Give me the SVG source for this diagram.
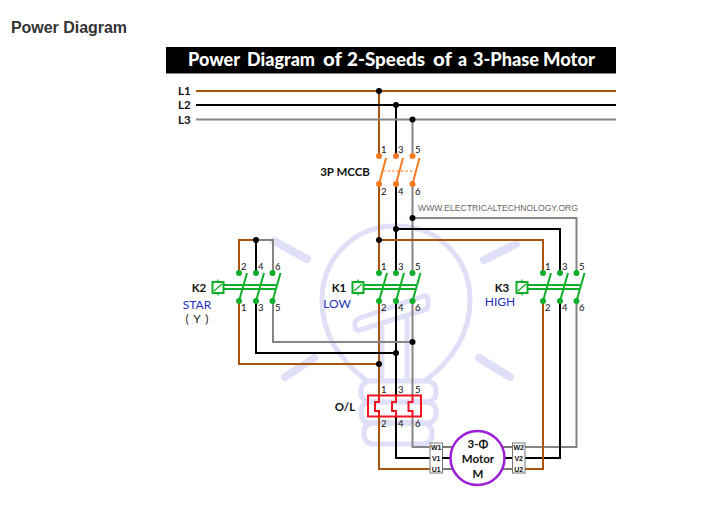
<svg xmlns="http://www.w3.org/2000/svg" width="718" height="515" viewBox="0 0 718 515">
<style>
text{font-family:"Lato","Liberation Sans",sans-serif;font-weight:700;fill:#111}
.n{font-size:9.500px;font-weight:400;fill:#111}
.lb{font-size:11.500px;text-anchor:middle}
.bl{font-size:12px;text-anchor:middle;fill:#2432c0;font-weight:400}
.w{fill:none;stroke-width:2}
.br{stroke:#a8540f}.bk{stroke:#000}.gy{stroke:#858585}
.wm{fill:none;stroke:#dfdff8;stroke-width:5}
.ray{fill:none;stroke:#dfdff8;stroke-width:8;stroke-linecap:round}
.g{fill:none;stroke:#0fae2a;stroke-width:2}
.gd{fill:#0fae2a}
.o{stroke:#f57a1f;stroke-width:2;fill:none}
.od{fill:#f57a1f}
.r{fill:none;stroke:#ee1520;stroke-width:2}
.tb{fill:#fff;stroke:#777;stroke-width:1}
.t{font-size:7px;text-anchor:middle;font-family:"Liberation Sans",sans-serif;font-weight:700}
.ti{font-size:19px;font-weight:900;fill:#fff}
</style>
<defs>
<circle id="j" r="3" fill="#000"/>
<g id="cg">
<circle class="gd" cx="0" cy="0" r="3"/><circle class="gd" cx="17" cy="0" r="3"/><circle class="gd" cx="33.500" cy="0" r="3"/>
<circle class="gd" cx="0" cy="28" r="3"/><circle class="gd" cx="17" cy="28" r="3"/><circle class="gd" cx="33.500" cy="28" r="3"/>
<path class="g" d="M0 28L8 0M17 28L25 0M33.500 28L41.500 0"/>
<path class="g" d="M-15.500 12H37M-15.500 16H36"/>
<rect class="g" x="-26.500" y="9" width="11" height="11"/>
<path class="g" d="M-21 6.500V9M-21 20V22.500M-25 18L-17 11" style="stroke-width:1.300"/>
</g>
</defs>
<rect width="718" height="515" fill="#fff"/>
<text x="11" y="33" textLength="116" style="font-family:'Liberation Sans',sans-serif;font-size:16px;font-weight:700;fill:#333">Power Diagram</text>
<g id="watermark">
<path class="wm" d="M367 381C340 360 322 335 322 300C322 258 354 226 396 226C438 226 470 258 470 300C470 335 452 360 425 381"/>
<rect class="wm" x="361" y="381" width="75" height="21" rx="9"/>
<rect class="wm" x="361" y="402" width="75" height="21" rx="9"/>
<rect class="wm" x="364" y="423" width="68" height="21" rx="9"/>
<path class="wm" d="M360 318L424 296Q428 295 428 300V305Q428 309 424 310L360 330Q355 331 355 326V323Q355 320 360 318ZM382 326V381M407 318V381"/>
<path class="ray" d="M274 241L307 259M285 377L314 358M516 244L484 260M510 377L479 358"/>
</g>
<rect id="title-bar" x="166" y="47" width="450" height="26.500" fill="#000"/>
<text y="66" class="ti" lengthAdjust="spacingAndGlyphs"><tspan x="188" textLength="52" lengthAdjust="spacingAndGlyphs">Power</tspan><tspan x="247" textLength="68" lengthAdjust="spacingAndGlyphs">Diagram</tspan><tspan x="323" textLength="19" lengthAdjust="spacingAndGlyphs">of</tspan><tspan x="347" textLength="78" lengthAdjust="spacingAndGlyphs">2-Speeds</tspan><tspan x="433" textLength="19" lengthAdjust="spacingAndGlyphs">of</tspan><tspan x="458" textLength="9" lengthAdjust="spacingAndGlyphs">a</tspan><tspan x="473" textLength="66" lengthAdjust="spacingAndGlyphs">3-Phase</tspan><tspan x="543" textLength="52" lengthAdjust="spacingAndGlyphs">Motor</tspan></text>
<g id="connectors">
<path class="w br" d="M196 91H616M379 91V156M379 184V273M379 301V396M379 416V469H430"/>
<path class="w bk" d="M196 105H616M396 105V156M396 184V273M396 301V396M396 416V458H430"/>
<path class="w gy" d="M196 119.500H616M412.500 119.500V156M412.500 184V273M412.500 301V396M412.500 416V447H430"/>
<path class="w gy" d="M412.500 218H576.500V273M576.500 301V447H525"/>
<path class="w bk" d="M396 229H560V273M560 301V458H525"/>
<path class="w br" d="M379 240H543V273M543 301V469H525"/>
<path class="w br" d="M239 273V240H256M239 301V364H379"/>
<path class="w bk" d="M256 273V240M256 301V353H396"/>
<path class="w gy" d="M273 273V240H256M273 301V342H412.500"/>
<use href="#j" x="379" y="91"/><use href="#j" x="396" y="105"/><use href="#j" x="412.500" y="119.500"/>
<use href="#j" x="412.500" y="218"/><use href="#j" x="396" y="229"/><use href="#j" x="379" y="240"/>
<use href="#j" x="256" y="240"/><use href="#j" x="412.500" y="342"/><use href="#j" x="396" y="353"/><use href="#j" x="379" y="364"/>
</g>
<g id="line-labels">
<text x="178" y="95" font-size="11.500">L1</text>
<text x="178" y="109" font-size="11.500">L2</text>
<text x="178" y="124" font-size="11.500">L3</text>
</g>
<g id="mccb">
<circle class="od" cx="379" cy="156" r="3"/><circle class="od" cx="396" cy="156" r="3"/><circle class="od" cx="412.500" cy="156" r="3"/>
<circle class="od" cx="379" cy="184" r="3"/><circle class="od" cx="396" cy="184" r="3"/><circle class="od" cx="412.500" cy="184" r="3"/>
<path class="o" d="M379 184L386 158M396 184L403 158M412.500 184L419.500 158"/>
<path class="o" d="M383 171H414" stroke-dasharray="2.500 2" style="stroke-width:1.200"/>
<text x="345" y="176" class="lb">3P MCCB</text>
<text class="n" x="381" y="153">1</text><text class="n" x="398" y="153">3</text><text class="n" x="415" y="153">5</text>
<text class="n" x="381" y="195">2</text><text class="n" x="398" y="195">4</text><text class="n" x="415" y="195">6</text>
</g>
<text id="website" x="418" y="211" textLength="160" lengthAdjust="spacingAndGlyphs" style="font-family:'Liberation Sans',sans-serif;font-weight:400;font-size:9px;fill:#666">WWW.ELECTRICALTECHNOLOGY.ORG</text>
<g id="k2">
<use href="#cg" x="239" y="273"/>
<text x="199" y="292" class="lb">K2</text>
<text x="197" y="309" class="bl">STAR</text>
<text x="197" y="323" class="bl" style="fill:#222;word-spacing:2px">( Y )</text>
<text class="n" x="241" y="270">2</text><text class="n" x="258" y="270">4</text><text class="n" x="275" y="270">6</text>
<text class="n" x="241" y="311">1</text><text class="n" x="258" y="311">3</text><text class="n" x="275" y="311">5</text>
</g>
<g id="k1">
<use href="#cg" x="379" y="273"/>
<text x="339" y="292" class="lb">K1</text>
<text x="337" y="308" class="bl">LOW</text>
<text class="n" x="381" y="270">1</text><text class="n" x="398" y="270">3</text><text class="n" x="415" y="270">5</text>
<text class="n" x="381" y="311">2</text><text class="n" x="398" y="311">4</text><text class="n" x="415" y="311">6</text>
</g>
<g id="k3">
<use href="#cg" x="543" y="273"/>
<text x="502" y="292" class="lb">K3</text>
<text x="500" y="306" class="bl">HIGH</text>
<text class="n" x="545" y="270">1</text><text class="n" x="562" y="270">3</text><text class="n" x="579" y="270">5</text>
<text class="n" x="545" y="311">2</text><text class="n" x="562" y="311">4</text><text class="n" x="579" y="311">6</text>
</g>
<g id="overload">
<rect class="r" x="368" y="395.500" width="53" height="21"/>
<path class="r" d="M379 395.500V402H375V411H379V416.500M396 395.500V402H392V411H396V416.500M412.500 395.500V402H408.500V411H412.500V416.500"/>
<text x="345" y="411" class="lb">O/L</text>
<text class="n" x="381" y="393">1</text><text class="n" x="398" y="393">3</text><text class="n" x="415" y="393">5</text>
<text class="n" x="381" y="427">2</text><text class="n" x="398" y="427">4</text><text class="n" x="415" y="427">6</text>
</g>
<g id="motor">
<rect class="tb" x="430" y="443" width="12.500" height="30"/>
<rect class="tb" x="512.500" y="443" width="12.500" height="30"/>
<path d="M442 447H452M442 469H452M502 447H512M502 469H512" stroke="#777" stroke-width="2"/>
<path d="M442 458H452M502 458H512" stroke="#000" stroke-width="2"/>
<text class="t" x="436.200" y="450">W1</text><text class="t" x="436.200" y="461">V1</text><text class="t" x="436.200" y="472">U1</text>
<text class="t" x="518.700" y="450">W2</text><text class="t" x="518.700" y="461">V2</text><text class="t" x="518.700" y="472">U2</text>
<circle cx="477.500" cy="458" r="27" fill="#fff" stroke="#9b1fd8" stroke-width="2.500"/>
<text x="478" y="448" class="lb">3-Φ</text>
<text x="478" y="463" class="lb">Motor</text>
<text x="478" y="478" class="lb">M</text>
</g>
</svg>
